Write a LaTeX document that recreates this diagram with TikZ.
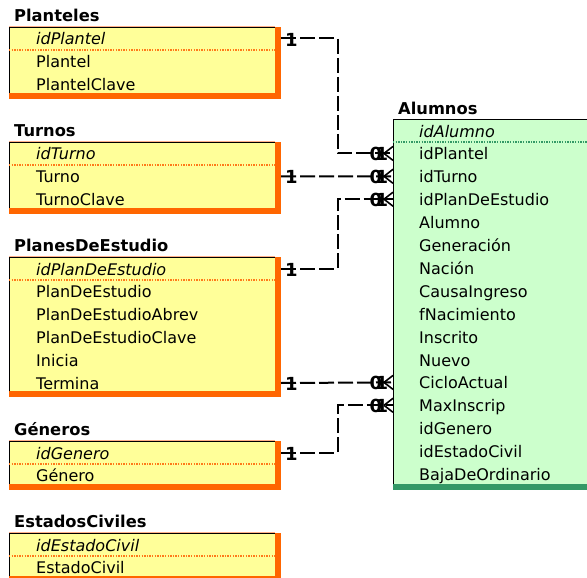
\documentclass[tikz,border=0pt]{standalone}
\usepackage{fontspec}
\setmainfont{DejaVu Sans}
\definecolor{tblfill}{HTML}{FFFF99}
\definecolor{tblorange}{HTML}{FF6600}
\definecolor{sepor}{HTML}{FF7A1A}
\definecolor{sepline}{HTML}{FFB08A}
\definecolor{grnfill}{HTML}{CCFFCC}
\definecolor{grnbar}{HTML}{339966}
\tikzset{
  fld/.style={anchor=base west, inner sep=0pt, font=\fontsize{16}{18}\selectfont},
  keyfld/.style={anchor=base west, inner sep=0pt, font=\fontsize{16}{18}\selectfont\itshape},
  ttl/.style={anchor=base west, inner sep=0pt, font=\fontsize{16.3}{18}\selectfont\bfseries},
  rel/.style={line width=2pt, dash pattern=on 15pt off 4pt, black},
  onemark/.style={inner sep=0pt, font=\fontsize{18}{20}\selectfont\bfseries},
  crow/.style={line width=1.6pt, black},
  sepdots/.style={line width=2.4pt, dash pattern=on 1.4pt off 1.2pt},
}
% #1 id, #2 top, #3 number of rows, #4 title, #5 key field, #6 other fields
\newcommand\ytable[6]{%
  \pgfmathsetmacro\yb{#2+22.9*#3-3}
  \fill[tblfill] (9,#2) rectangle (275,\yb);
  \fill[tblorange] (275,#2) rectangle (281,\yb+6);
  \fill[tblorange] (9,\yb) rectangle (281,\yb+6);
  \draw[sepline, line width=0.8pt] (9,#2-1) -- (275,#2-1);
  \draw[black, line width=0.8pt] (9,\yb) -- (9,#2) -- (275,#2);
  \draw[sepor, sepdots] (9,#2+23) -- (275,#2+23);
  \node[ttl] (#1-title) at (14,#2-5.5) {#4};
  \node[keyfld] (#1-0) at (36,#2+18) {#5};
  \foreach \f [count=\k] in {#6} {\node[fld] (#1-\k) at (36,#2+18+22.9*\k) {\f};}
}
\begin{document}
\begin{tikzpicture}[x=1pt, y=-1pt]
\useasboundingbox (0,0) rectangle (587,578);

\ytable{pl}{27}{3}{Planteles}{idPlantel}{Plantel,PlantelClave}
\ytable{tu}{142}{3}{Turnos}{idTurno}{Turno,TurnoClave}
\ytable{pe}{257}{6}{PlanesDeEstudio}{idPlanDeEstudio}{PlanDeEstudio,PlanDeEstudioAbrev,PlanDeEstudioClave,Inicia,Termina}
\ytable{ge}{441}{2}{Géneros}{idGenero}{Género}
\ytable{ec}{533}{2}{EstadosCiviles}{idEstadoCivil}{EstadoCivil}

% Alumnos
\fill[grnfill] (393,119) rectangle (588,484);
\fill[grnbar] (393,484) rectangle (588,490);
\draw[black, line width=0.8pt] (393,484) -- (393,119) -- (588,119);
\draw[grnbar, sepdots] (393,142) -- (588,142);
\node[ttl] (al-title) at (398,114) {Alumnos};
\node[keyfld] (al-0) at (419,137) {idAlumno};
\foreach \f [count=\k] in {idPlantel,idTurno,idPlanDeEstudio,Alumno,Generación,Nación,CausaIngreso,fNacimiento,Inscrito,Nuevo,CicloActual,MaxInscrip,idGenero,idEstadoCivil,BajaDeOrdinario}
  {\node[fld] (al-\k) at (419,137+22.9*\k) {\f};}

% connector end points
\coordinate (plR) at (281,38.5);
\coordinate (tuR) at (281,176.4);
\coordinate (peR) at (281,268.5);
\coordinate (peT) at (281,383);
\coordinate (geR) at (281,452.5);
\coordinate (aPl) at (393,153.4);
\coordinate (aTu) at (393,176.3);
\coordinate (aPe) at (393,199.2);
\coordinate (aCi) at (393,382.4);
\coordinate (aMx) at (393,405.3);
\coordinate (xb) at (337.5,0);

\draw[rel] (plR) -- (plR -| xb) |- (aPl);
\draw[rel] (tuR) -- (aTu);
\draw[rel] (peR) -- (peR -| xb) |- (aPe);
\draw[rel] (peT) -- (aCi);
\draw[rel] (geR) -- (geR -| xb) |- (aMx);

% one-side marks
\foreach \c in {plR,tuR,peR,peT,geR}
  {\node[onemark] (one-\c) at ([xshift=10.5pt, yshift=-1pt]\c) {1};}
% many-side marks
\foreach \c in {aPl,aTu,aPe,aCi,aMx}{
  \node[onemark] (zero-\c) at ([xshift=-17pt, yshift=-1pt]\c) {0};
  \node[onemark] (many-\c) at ([xshift=-11pt, yshift=-1pt]\c) {1};
  \draw[crow] ([xshift=-9pt]\c) -- ([yshift=7pt]\c);
  \draw[crow] ([xshift=-9pt]\c) -- ([yshift=-7pt]\c);
}
\end{tikzpicture}
\end{document}
